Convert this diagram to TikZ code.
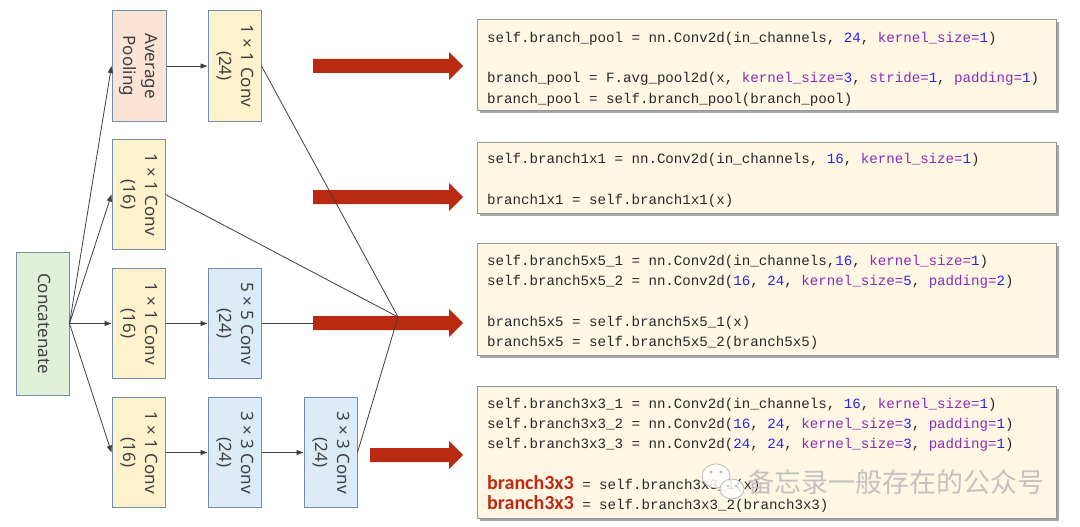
\documentclass[tikz,border=0pt]{standalone}
\usepackage{fontspec}
\setmainfont{Noto Sans}
\newfontfamily\codefont{Liberation Mono}
\newfontfamily\calfont{Carlito}
\newfontfamily\cjkfont{Noto Sans CJK SC}
\usepackage{graphicx}
\usetikzlibrary{arrows.meta,shadows}
\definecolor{bord}{RGB}{112,142,176}
\definecolor{fgreen}{RGB}{226,240,217}
\definecolor{fpeach}{RGB}{251,228,214}
\definecolor{fyellow}{RGB}{255,242,204}
\definecolor{fblue}{RGB}{221,235,247}
\definecolor{txt}{RGB}{64,64,64}
\definecolor{redarr}{RGB}{186,42,16}
\definecolor{codebg}{RGB}{255,247,228}
\definecolor{codebd}{RGB}{150,150,150}
\definecolor{codetxt}{RGB}{40,40,40}
\definecolor{kwc}{RGB}{135,45,185}
\definecolor{numc}{RGB}{35,35,240}
\definecolor{redtxt}{RGB}{192,40,20}
\newcommand\rt[1]{\rotatebox{-90}{\begin{tabular}{@{}c@{}}#1\end{tabular}}}
\newcommand\kwd[1]{\textcolor{kwc}{#1}}
\newcommand\numb[1]{\textcolor{numc}{#1}}
\newcommand\redb[1]{{\calfont\bfseries\fontsize{20}{20}\selectfont\textcolor{redtxt}{#1}}}
\newcommand\redarrow[2]{\fill[redarr] (#1,#2-7) -- (449,#2-7) -- (449,#2-14) -- (463,#2) -- (449,#2+14) -- (449,#2+7) -- (#1,#2+7) -- cycle;}
\tikzset{
  blk/.style={draw=bord, line width=1pt, inner sep=0pt, minimum width=53pt, minimum height=110pt, text=txt, font=\fontsize{17}{22}\selectfont},
  conn/.style={draw=txt, line width=0.8pt, -{Triangle[length=7pt,width=5pt]}},
  plain/.style={draw=txt, line width=0.8pt},
  codebox/.style={draw=codebd, fill=codebg, line width=1pt, inner sep=0pt, minimum width=579pt,
    drop shadow={shadow xshift=2.5pt, shadow yshift=-2.5pt, fill=gray!70, opacity=1}},
  codeline/.style={anchor=base west, inner sep=0pt, text=codetxt, font=\codefont\fontsize{14.15}{16}\selectfont},
}
\begin{document}
\begin{tikzpicture}[x=1pt,y=-1pt]
\useasboundingbox (0,0) rectangle (1080,527);
\fill[white] (0,0) rectangle (1080,527);

% blocks
\node[blk, fill=fgreen, minimum height=143pt] (cat) at (42.5,323.5) {\rt{Concatenate}};
\node[blk, fill=fpeach, minimum width=54pt] (pool) at (139,66) {\rt{Average\\Pooling}};
\node[blk, fill=fyellow] (c24) at (234.5,66) {\rt{1 × 1 Conv\\(24)}};
\node[blk, fill=fyellow] (b2) at (138.5,194.5) {\rt{1 × 1 Conv\\(16)}};
\node[blk, fill=fyellow] (b3a) at (138.5,323.5) {\rt{1 × 1 Conv\\(16)}};
\node[blk, fill=fblue] (b3b) at (234.5,323.5) {\rt{5 × 5 Conv\\(24)}};
\node[blk, fill=fyellow] (b4a) at (138.5,452.5) {\rt{1 × 1 Conv\\(16)}};
\node[blk, fill=fblue] (b4b) at (234.5,452.5) {\rt{3 × 3 Conv\\(24)}};
\node[blk, fill=fblue] (b4c) at (330.5,452.5) {\rt{3 × 3 Conv\\(24)}};
\coordinate (m) at (398,317);

% arrows from concatenate
\draw[conn] (cat.east) -- (pool.west);
\draw[conn] (cat.east) -- (b2.west);
\draw[conn] (cat.east) -- (b3a.west);
\draw[conn] (cat.east) -- (b4a.west);
\draw[conn] (pool) -- (c24);
\draw[conn] (b3a) -- (b3b);
\draw[conn] (b4a) -- (b4b);
\draw[conn] (b4b) -- (b4c);
\draw[plain] (b3b.east) -- (b3b.east -| m);

% red arrows
\redarrow{313}{66}
\redarrow{313}{197}
\redarrow{313}{323}
\redarrow{370}{455}

% merging lines
\draw[plain] (c24.east) -- (m);
\draw[plain] (b2.east) -- (m);
\draw[plain] (b4c.east) -- (m);

% code boxes
\node[codebox, minimum height=91pt] (cb1) at (766.5,65.5) {};
\node[codebox, minimum height=71pt] (cb2) at (766.5,177.5) {};
\node[codebox, minimum height=112pt] (cb3) at (766.5,299) {};
\node[codebox, minimum height=132pt] (cb4) at (766.5,452) {};

\node[codeline] (l11) at (487,43) {self.branch\_pool = nn.Conv2d(in\_channels, \numb{24}, \kwd{kernel\_size=}\numb{1})};
\node[codeline] (l12) at (487,83) {branch\_pool = F.avg\_pool2d(x, \kwd{kernel\_size=}\numb{3}, \kwd{stride=}\numb{1}, \kwd{padding=}\numb{1})};
\node[codeline] (l13) at (487,103) {branch\_pool = self.branch\_pool(branch\_pool)};

\node[codeline] (l21) at (487,163) {self.branch1x1 = nn.Conv2d(in\_channels, \numb{16}, \kwd{kernel\_size=}\numb{1})};
\node[codeline] (l22) at (487,204) {branch1x1 = self.branch1x1(x)};

\node[codeline] (l31) at (487,265) {self.branch5x5\_1 = nn.Conv2d(in\_channels,\numb{16}, \kwd{kernel\_size=}\numb{1})};
\node[codeline] (l32) at (487,285) {self.branch5x5\_2 = nn.Conv2d(\numb{16}, \numb{24}, \kwd{kernel\_size=}\numb{5}, \kwd{padding=}\numb{2})};
\node[codeline] (l33) at (487,326) {branch5x5 = self.branch5x5\_1(x)};
\node[codeline] (l34) at (487,346) {branch5x5 = self.branch5x5\_2(branch5x5)};

\node[codeline] (l41) at (487,408) {self.branch3x3\_1 = nn.Conv2d(in\_channels, \numb{16}, \kwd{kernel\_size=}\numb{1})};
\node[codeline] (l42) at (487,428) {self.branch3x3\_2 = nn.Conv2d(\numb{16}, \numb{24}, \kwd{kernel\_size=}\numb{3}, \kwd{padding=}\numb{1})};
\node[codeline] (l43) at (487,448) {self.branch3x3\_3 = nn.Conv2d(\numb{24}, \numb{24}, \kwd{kernel\_size=}\numb{3}, \kwd{padding=}\numb{1})};
\node[codeline] (l44) at (487,489) {\redb{branch3x3} = self.branch3x3\_1(x)};
\node[codeline] (l45) at (487,509) {\redb{branch3x3} = self.branch3x3\_2(branch3x3)};

% watermark
\begin{scope}[opacity=0.85]
\draw[gray!60, fill=white, line width=0.8pt] (716,476) ellipse (14pt and 12pt);
\draw[gray!60, fill=white, line width=0.8pt] (732,489) ellipse (12pt and 10pt);
\fill[gray!60] (711,472) circle (1.6pt) (721,472) circle (1.6pt) (728,486) circle (1.3pt) (736,486) circle (1.3pt);
\node[text=gray!55, font=\cjkfont\fontsize{27}{27}\selectfont, inner sep=0pt] (wm) at (896,482) {备忘录一般存在的公众号};
\end{scope}
\end{tikzpicture}
\end{document}
